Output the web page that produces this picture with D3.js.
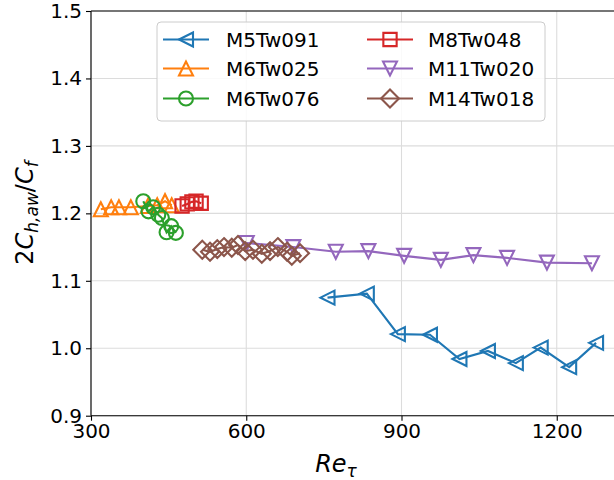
<!DOCTYPE html>
<html><head><meta charset="utf-8">
<script src="https://cdn.jsdelivr.net/npm/d3@7"></script>
<style>body{margin:0;background:#fff}svg{font-family:"DejaVu Sans",sans-serif}</style>
</head><body><svg id="c" width="614" height="480"></svg>
<script>
const xTicks=[300,600,900,1200];
const yTicks=[0.9,1.0,1.1,1.2,1.3,1.4,1.5];
const m5Tw091_x=[757,833,893,955,1012,1067,1121,1169,1224,1276];
const m5Tw091_y=[1.075,1.081,1.021,1.020,0.984,0.996,0.978,1.001,0.972,1.008];
const m6Tw025_x=[319,339,354,377,410,428,443,456];
const m6Tw025_y=[1.206,1.209,1.209,1.209,1.211,1.212,1.218,1.212];
const m6Tw076_x=[401,411,420,430,437,446,455,464];
const m6Tw076_y=[1.218,1.203,1.209,1.198,1.193,1.172,1.181,1.171];
const m8Tw048_x=[476,486,495,503,513];
const m8Tw048_y=[1.211,1.214,1.217,1.218,1.215];
const m11Tw020_x=[601,691,773,836,905,976,1039,1104,1181,1268];
const m11Tw020_y=[1.156,1.150,1.143,1.144,1.137,1.131,1.138,1.134,1.127,1.126];
const m14Tw018_x=[515,530,544,557,572,584,598,613,630,646,661,679,688,704];
const m14Tw018_y=[1.146,1.143,1.147,1.150,1.149,1.153,1.144,1.146,1.140,1.144,1.150,1.143,1.137,1.141];

const series=[
 {name:"M5Tw091",x:m5Tw091_x,y:m5Tw091_y,color:"#1f77b4",marker:"left"},
 {name:"M6Tw025",x:m6Tw025_x,y:m6Tw025_y,color:"#ff7f0e",marker:"up"},
 {name:"M6Tw076",x:m6Tw076_x,y:m6Tw076_y,color:"#2ca02c",marker:"circle"},
 {name:"M8Tw048",x:m8Tw048_x,y:m8Tw048_y,color:"#d62728",marker:"square"},
 {name:"M11Tw020",x:m11Tw020_x,y:m11Tw020_y,color:"#9467bd",marker:"down"},
 {name:"M14Tw018",x:m14Tw018_x,y:m14Tw018_y,color:"#8c564b",marker:"diamond"}
];

const L=91,T=11,B=415.7,R=614;
const x=d3.scaleLinear().domain([300,1310]).range([L,L+1010*0.5175]);
const y=d3.scaleLinear().domain([0.9,1.5]).range([B,T]);
const svg=d3.select("#c");

// grid
svg.append("g").selectAll("line").data(xTicks).join("line")
 .attr("x1",d=>x(d)).attr("x2",d=>x(d)).attr("y1",T).attr("y2",B)
 .attr("stroke","#dcdcdc").attr("stroke-width",1.1);
svg.append("g").selectAll("line").data(yTicks).join("line")
 .attr("x1",L).attr("x2",R).attr("y1",d=>y(d)).attr("y2",d=>y(d))
 .attr("stroke","#dcdcdc").attr("stroke-width",1.1);

const ms=14;
function markerPath(type){
 const h=ms/2;
 switch(type){
  case "left": return `M${-h},0L${h},${-h}L${h},${h}Z`;
  case "up": return `M0,${-h}L${-h},${h}L${h},${h}Z`;
  case "down": return `M0,${h}L${-h},${-h}L${h},${-h}Z`;
  case "square": {const s=h*0.95;return `M${-s},${-s}H${s}V${s}H${-s}Z`;}
  case "diamond": {const d=h*1.28;return `M0,${-d}L${d},0L0,${d}L${-d},0Z`;}
 }
}

svg.append("clipPath").attr("id","cp").append("rect").attr("x",L).attr("y",T).attr("width",R-L).attr("height",B-T);
const plot=svg.append("g").attr("clip-path","url(#cp)");
const line=d3.line().x(d=>x(d[0])).y(d=>y(d[1]));
series.forEach(s=>{
 const pts=s.x.map((v,i)=>[v,s.y[i]]);
 const g=plot.append("g");
 g.append("path").attr("d",line(pts)).attr("fill","none").attr("stroke",s.color).attr("stroke-width",2.1);
 if(s.marker==="circle"){
  g.selectAll("circle").data(pts).join("circle").attr("cx",d=>x(d[0])).attr("cy",d=>y(d[1])).attr("r",ms/2)
   .attr("fill","none").attr("stroke",s.color).attr("stroke-width",2.1);
 } else {
  g.selectAll("path.m").data(pts).join("path").attr("class","m")
   .attr("transform",d=>`translate(${x(d[0])},${y(d[1])})`)
   .attr("d",markerPath(s.marker))
   .attr("fill","none").attr("stroke",s.color).attr("stroke-width",2.1);
 }
});

// spines
svg.append("line").attr("x1",L).attr("x2",L).attr("y1",T).attr("y2",B).attr("stroke","#000").attr("stroke-width",1.1);
svg.append("line").attr("x1",L).attr("x2",R).attr("y1",B).attr("y2",B).attr("stroke","#000").attr("stroke-width",1.1);
svg.append("line").attr("x1",L).attr("x2",R).attr("y1",T).attr("y2",T).attr("stroke","#000").attr("stroke-width",1.1);

// axes
const xa=svg.append("g").attr("transform",`translate(0,${B})`)
 .call(d3.axisBottom(x).tickValues(xTicks).tickSize(5).tickPadding(3).tickFormat(d3.format("d")));
const ya=svg.append("g").attr("transform",`translate(${L},0)`)
 .call(d3.axisLeft(y).tickValues(yTicks).tickSize(5).tickPadding(4).tickFormat(d3.format(".1f")));
[xa,ya].forEach(a=>{a.select(".domain").remove();
 a.selectAll("text").attr("font-size",20).attr("fill","#000").attr("font-family","DejaVu Sans");
 a.selectAll("line").attr("stroke","#000").attr("stroke-width",1.1);});

// axis labels
const xl=svg.append("text").attr("x",336).attr("y",472).attr("text-anchor","middle").attr("font-size",24);
xl.append("tspan").attr("font-style","italic").text("Re");
xl.append("tspan").attr("font-style","italic").attr("font-size",17).attr("dy",5).text("τ");

const yl=svg.append("text").attr("transform","translate(33,213) rotate(-90)").attr("text-anchor","middle").attr("font-size",24);
yl.append("tspan").text("2");
yl.append("tspan").attr("font-style","italic").text("C");
yl.append("tspan").attr("font-style","italic").attr("font-size",17).attr("dy",5).text("h,aw");
yl.append("tspan").attr("dy",-5).text("/");
yl.append("tspan").attr("font-style","italic").text("C");
yl.append("tspan").attr("font-style","italic").attr("font-size",17).attr("dy",5).text("f");

// legend
const lg=svg.append("g");
lg.append("rect").attr("x",157).attr("y",22).attr("width",388).attr("height",99).attr("rx",4)
 .attr("fill","#fff").attr("fill-opacity",0.85).attr("stroke","#cccccc").attr("stroke-width",1);
const rows=[39.5,68.5,98.5];
const cols=[{lx:163,tx:226},{lx:367,tx:428}];
series.forEach((s,i)=>{
 const c=cols[Math.floor(i/3)], ry=rows[i%3];
 const g=lg.append("g");
 g.append("line").attr("x1",c.lx).attr("x2",c.lx+46).attr("y1",ry).attr("y2",ry).attr("stroke",s.color).attr("stroke-width",2.1);
 if(s.marker==="circle") g.append("circle").attr("cx",c.lx+23).attr("cy",ry).attr("r",ms/2).attr("fill","none").attr("stroke",s.color).attr("stroke-width",2.1);
 else g.append("path").attr("transform",`translate(${c.lx+23},${ry})`).attr("d",markerPath(s.marker)).attr("fill","none").attr("stroke",s.color).attr("stroke-width",2.1);
 g.append("text").attr("x",c.tx).attr("y",ry+7).attr("font-size",20).text(s.name);
});
</script></body></html>
